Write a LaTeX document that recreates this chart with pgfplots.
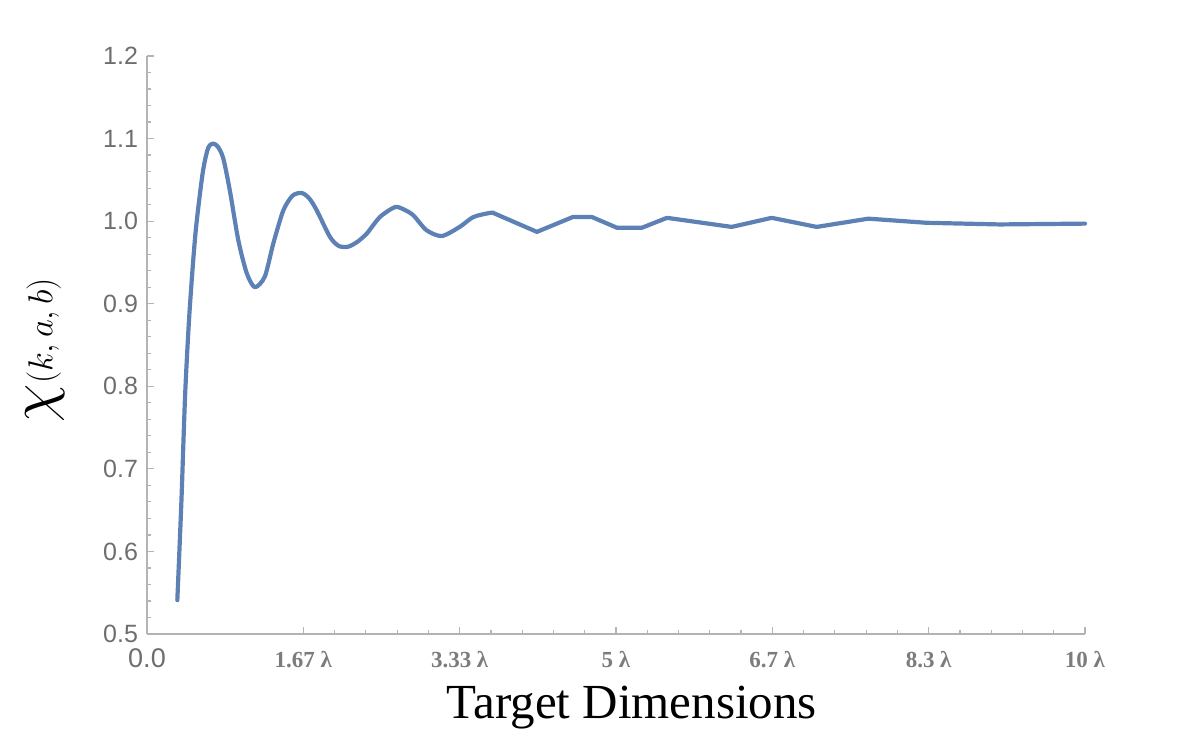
\documentclass[border=0pt]{standalone}
\usepackage{graphicx}
\usepackage{fontspec}
\setmainfont{Liberation Serif}
\newfontfamily\arial{Liberation Sans}
\usepackage{pgfplots}
\pgfplotsset{compat=1.18}
\definecolor{mathblue}{HTML}{5E81B5}
\definecolor{axgray}{HTML}{B4B4B4}
\definecolor{labgray}{HTML}{6E6E6E}
\begin{document}
\begin{tikzpicture}
\begin{axis}[
  name=ax,
  scale only axis,
  width=469pt, height=289pt,
  xmin=0, xmax=30, ymin=0.5, ymax=1.2,
  axis lines=left,
  axis line style={-, axgray, line width=0.7pt},
  tick style={axgray, line width=0.6pt},
  tick align=inside,
  major tick length=3.5pt, minor tick length=2pt,
  xtick={5,10,15,20,25,30},
  xticklabels={1.67 λ,3.33 λ,5 λ,6.7 λ,8.3 λ,10 λ},
  extra x ticks={0},
  extra x tick labels={0.0},
  extra x tick style={xticklabel style={font=\arial\fontsize{13.5}{15}\selectfont, text=labgray, yshift=0pt}},
  minor x tick num=4,
  ytick={0.5,0.6,0.7,0.8,0.9,1.0,1.1,1.2},
  yticklabels={0.5,0.6,0.7,0.8,0.9,1.0,1.1,1.2},
  minor y tick num=4,
  xticklabel style={font=\fontsize{11.5}{13}\selectfont\bfseries, text=labgray!90, anchor=base, yshift=-17pt},
  yticklabel style={font=\arial\fontsize{12.5}{14}\selectfont, text=labgray, xshift=-1pt},
  xlabel={Target Dimensions},
  xlabel style={font=\fontsize{24.5}{28}\selectfont, at={(axis description cs:0.517,-0.147)}, anchor=base},
  ylabel={\scalebox{1.8}{$\chi$}$(k,a,b)$},
  ylabel style={font=\fontsize{17.28}{20}\selectfont, at={(axis description cs:-0.1087,0.491)}, anchor=center},
  clip=false,
]
\addplot[mathblue, line width=2.1pt, line join=round, line cap=round, mark=none, smooth, tension=0.45] coordinates {
  (0.97,0.541)(1.10,0.660)(1.22,0.790)(1.36,0.890)(1.55,0.985)
  (1.78,1.058)(1.95,1.088)(2.11,1.094)(2.27,1.090)(2.44,1.076)
  (2.65,1.037)(2.92,0.977)(3.19,0.937)(3.45,0.920)(3.77,0.933)(4.04,0.973)
  (4.36,1.013)(4.66,1.031)(4.96,1.034)(5.20,1.027)(5.43,1.013)(5.85,0.981)
  (6.13,0.970)(6.43,0.969)(6.73,0.975)(7.03,0.985)(7.45,1.005)(7.93,1.017)
  (8.22,1.014)(8.52,1.007)(8.94,0.989)(9.43,0.982)(10.0,0.993)(10.44,1.005)
  (10.97,1.010)(11.07,1.010)};
\addplot[mathblue, line width=2.1pt, line join=round, line cap=round, mark=none] coordinates {
  (11.07,1.010)(12.47,0.987)(13.62,1.005)(14.23,1.005)(15.03,0.992)(15.83,0.992)
  (16.63,1.004)(18.70,0.993)(19.98,1.004)(21.42,0.993)(23.07,1.003)(24.93,0.998)
  (27.28,0.996)(30.0,0.997)};
\end{axis}
\path ([shift={(-73.5pt,-52.5pt)}]ax.south west) rectangle ([shift={(524.5pt,317pt)}]ax.south west);
\end{tikzpicture}
\end{document}
